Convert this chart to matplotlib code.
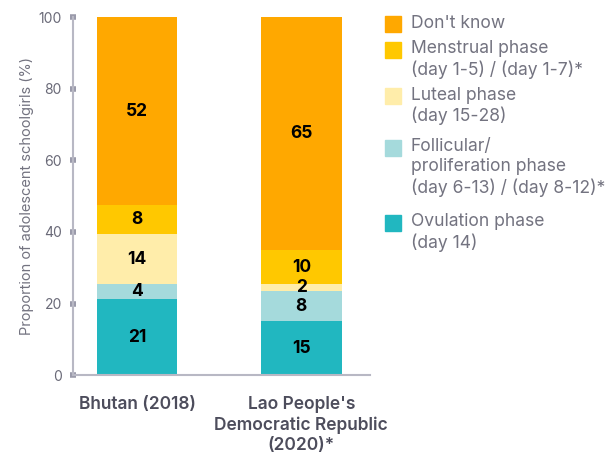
import matplotlib
matplotlib.use('Agg')
import matplotlib.pyplot as plt
from matplotlib.patches import Rectangle
import numpy as np

plt.rcParams['font.family'] = ['Inter', 'DejaVu Sans']

countries = ["Bhutan (2018)", "Lao People's\nDemocratic Republic\n(2020)*"]
# stacked from bottom to top
phases = ["Ovulation phase\n(day 14)",
          "Follicular/\nproliferation phase\n(day 6-13) / (day 8-12)*",
          "Luteal phase\n(day 15-28)",
          "Menstrual phase\n(day 1-5) / (day 1-7)*",
          "Don't know"]
values = [
    [21.2, 15.0],   # ovulation
    [4.2, 8.4],     # follicular
    [14.0, 2.0],    # luteal
    [8.1, 9.6],     # menstrual
    [52.5, 65.0],   # don't know
]
labels = [
    [21, 15],
    [4, 8],
    [14, 2],
    [8, 10],
    [52, 65],
]
colors = ['#21B7C0', '#A5DADC', '#FFEDAA', '#FFC800', '#FFA800']

fig = plt.figure(figsize=(6.09, 4.53), dpi=100)
ax = fig.add_axes([0.12, 0.172, 0.488, 0.79])

x = np.arange(len(countries))
bottom = np.zeros(len(countries))
for vals, labs, col in zip(values, labels, colors):
    vals = np.array(vals)
    ax.bar(x, vals, bottom=bottom, width=0.49, color=col, edgecolor='none')
    for xi, v, b, l in zip(x, vals, bottom, labs):
        ax.text(xi, b + v / 2, str(l), ha='center', va='center',
                fontsize=12.5, fontweight='bold', color='black')
    bottom = bottom + vals

ax.set_xlim(-0.39, 1.42)
ax.set_ylim(0, 100)
ax.set_yticks([0, 20, 40, 60, 80, 100])
ax.set_xticks(x)
ax.set_xticklabels(countries, fontsize=12.5, fontweight='semibold', color='#4d4d5c',
                   linespacing=1.25)
ax.tick_params(axis='x', length=0, pad=15)
ax.tick_params(axis='y', length=4, width=4, direction='inout', color='#9a9aaa',
               labelsize=10, labelcolor='#6a6a78', pad=6)
for s in ['top', 'right']:
    ax.spines[s].set_visible(False)
for s in ['left', 'bottom']:
    ax.spines[s].set_color('#b8b8c4')
    ax.spines[s].set_linewidth(1.5)
ax.set_ylabel('Proportion of adolescent schoolgirls (%)', fontsize=10.5, color='#737380', labelpad=3)

# legend drawn by hand, top to bottom
leg_mid = [24, 49.5, 96, 147.5, 222.5]
order = list(range(len(phases)))[::-1]
H = 453.0
W = 609.0
for yp, i in zip(leg_mid, order):
    fig.patches.append(Rectangle((385 / W, 1 - (yp + 8) / H), 16 / W, 16 / H,
                                 transform=fig.transFigure, color=colors[i]))
    fig.text(411 / W, 1 - (yp - 9.5) / H, phases[i], ha='left', va='top',
             fontsize=12.6, color='#737380', linespacing=1.22)

fig.savefig('out.png', dpi=100)
